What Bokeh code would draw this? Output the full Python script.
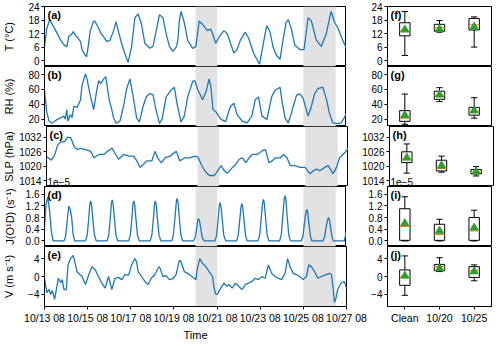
from bokeh.plotting import figure
from bokeh.layouts import column, row
from bokeh.models import Range1d, FixedTicker, BoxAnnotation, Label, PrintfTickFormatter
from bokeh.embed import file_html
from bokeh.resources import INLINE

FONT = "Liberation Sans"
BLUE = "#1f77b4"

# ---------------- data (time in days after 10/13 08:00) ----------------
T_t = [0, 0.1, 0.24, 0.4, 0.52, 0.75, 0.9, 1.03, 1.13, 1.28, 1.33, 1.42, 1.51, 1.67, 1.74, 1.9, 1.95,
       2.05, 2.12, 2.27, 2.32, 2.5, 2.6, 2.74, 2.89, 3.04, 3.2, 3.32, 3.43, 3.55, 3.73, 3.88, 4.04,
       4.19, 4.34, 4.5, 4.65, 4.88, 5.03, 5.18, 5.33, 5.49, 5.64, 5.79, 5.95, 6.1, 6.18, 6.25, 6.33,
       6.48, 6.64, 6.87, 7.02, 7.17, 7.33, 7.55, 7.7, 7.79, 7.94, 8.09, 8.32, 8.47, 8.62, 8.78, 8.93,
       9.08, 9.31, 9.47, 9.69, 9.92, 9.97, 10.15, 10.3, 10.45, 10.6, 10.75, 10.92, 11.07, 11.2, 11.3,
       11.45, 11.6, 11.83, 12.03, 12.15, 12.22, 12.37, 12.6, 12.83, 13.06, 13.25, 13.29, 13.45, 13.59,
       13.82, 14.0]
T_v = [6.4, 14, 18.3, 15.5, 13.4, 9.2, 7.1, 6.2, 10.9, 12, 13, 11.5, 10.6, 8.5, 5, 2.4, 1.8,
       8, 13.4, 17.4, 17.7, 14.8, 12.5, 10.6, 8.5, 9.2, 13.4, 17.4, 13, 8.5, 3, -0.7, 6.4,
       19.1, 20.8, 16.2, 7.8, 5.6, 6.4, 13.4, 20.5, 19.1, 12, 6.4, 4.2, 6, 9, 17.7, 21.9,
       17, 9, 5.5, 6.4, 17.7, 16.2, 13.4, 14.1, 12, 7.8, 10.6, 13.4, 12, 7.8, 3.5, 5,
       9.2, 12.7, 9.9, 3.5, -0.7, -1.4, 8, 15.5, 13, 6, 2.5, 0.7, 10, 17, 18.3,
       14, 7, 5, 5, 14, 19.1, 17.7, 9.2, 6.4, 12, 20.5, 21.9, 17, 14.8,
       9.2, 5.6]

RH_t = [0, 0.1, 0.21, 0.34, 0.47, 0.6, 0.75, 0.9, 0.97, 1.03, 1.09, 1.2, 1.28, 1.36, 1.51, 1.67, 1.74,
        1.9, 1.97, 2.1, 2.28, 2.4, 2.51, 2.6, 2.74, 2.84, 3.0, 3.12, 3.2, 3.32, 3.5, 3.66, 3.81, 3.96,
        4.11, 4.27, 4.4, 4.57, 4.72, 4.88, 5.03, 5.15, 5.33, 5.45, 5.64, 5.87, 6.02, 6.15, 6.33, 6.48,
        6.64, 6.87, 6.97, 7.1, 7.33, 7.5, 7.63, 7.72, 7.81, 7.94, 8.17, 8.39, 8.62, 8.78, 8.93, 9.16,
        9.39, 9.61, 9.77, 9.92, 10.08, 10.31, 10.53, 10.69, 10.92, 11.0, 11.15, 11.3, 11.45, 11.53,
        11.68, 11.83, 11.99, 12.22, 12.37, 12.52, 12.67, 12.9, 13.06, 13.21, 13.36, 13.59, 13.75,
        13.9, 14.0]
RH_v = [59, 30, 17.4, 14.4, 17, 19.6, 21.6, 24, 20, 32.8, 17.4, 26.2, 22, 37.1, 35.8, 45.9, 65.6,
        80.8, 74.3, 55, 32.8, 55, 72, 68, 74, 77.4, 45.9, 32.8, 21.7, 14.4, 17.4, 37.1, 61, 74.3,
        50.2, 21.7, 16, 37.1, 50.2, 54.5, 53, 35, 14, 20, 50, 59, 63, 40, 16, 24,
        50, 71, 72, 60, 46, 58, 74.3, 62, 33, 30, 20, 16.5, 37, 41.4, 26, 17.4,
        15, 24, 46, 50, 24, 19.6, 50, 59, 63, 46, 21.7, 15, 28, 37,
        52, 54, 48, 24, 37, 54, 61, 63, 48, 28, 15, 14, 15,
        22, 28]

SLP_t = [0, 0.22, 0.37, 0.52, 0.67, 0.83, 0.98, 1.13, 1.28, 1.44, 1.59, 1.82, 2.05, 2.2, 2.43, 2.66,
         2.82, 3.04, 3.2, 3.35, 3.58, 3.81, 4.04, 4.19, 4.34, 4.5, 4.65, 4.88, 5.03, 5.15, 5.33, 5.49,
         5.72, 6.02, 6.18, 6.41, 6.64, 6.87, 7.02, 7.17, 7.33, 7.55, 7.79, 7.94, 8.09, 8.24, 8.39,
         8.55, 8.78, 8.93, 9.08, 9.24, 9.39, 9.54, 9.77, 10.0, 10.15, 10.31, 10.46, 10.61, 10.84,
         10.99, 11.15, 11.3, 11.53, 11.76, 11.99, 12.22, 12.37, 12.52, 12.67, 12.9, 13.06, 13.29,
         13.44, 13.59, 13.82, 14.0]
SLP_v = [1024.2, 1022.5, 1024.5, 1028.9, 1030.2, 1030.2, 1032.2, 1031.8, 1028.2, 1026.9, 1027.5,
         1026.9, 1026.2, 1023.5, 1024.9, 1024.9, 1026.2, 1027.6, 1024.9, 1022.9, 1024.9, 1024.2,
         1024.2, 1022.2, 1019.5, 1020.8, 1022.2, 1022.2, 1026.2, 1023.5, 1021.4, 1023.5, 1024.2,
         1026.2, 1022.2, 1023.5, 1023.5, 1024.2, 1023.8, 1020.8, 1018.1, 1016.1, 1016.1, 1018.1,
         1020.2, 1018.1, 1017.1, 1018.8, 1020.8, 1022.9, 1023.5, 1021.5, 1023.5, 1024.9, 1024.9,
         1026.5, 1026.9, 1021.5, 1022.2, 1023.5, 1023.5, 1024.9, 1023.5, 1020.2, 1020.2, 1019.5,
         1019.5, 1016.8, 1018.1, 1018.8, 1018.1, 1019.5, 1020.2, 1016.8, 1019.5, 1023.5, 1025.6,
         1027.6]

J_t = [0.00, 0.07, 0.15, 0.24, 0.32, 0.40,
       0.90, 0.98, 1.06, 1.13, 1.20, 1.26, 1.33, 1.40,
       1.90, 1.98, 2.06, 2.10, 2.14, 2.18, 2.23, 2.31, 2.40,
       2.90, 2.98, 3.06, 3.10, 3.14, 3.18, 3.23, 3.31, 3.40,
       3.90, 3.98, 4.06, 4.10, 4.14, 4.18, 4.23, 4.31, 4.40,
       4.90, 4.98, 5.06, 5.10, 5.14, 5.18, 5.23, 5.31, 5.40,
       5.90, 5.98, 6.06, 6.11, 6.15, 6.19, 6.24, 6.32, 6.40,
       6.90, 6.98, 7.06, 7.10, 7.14, 7.18, 7.23, 7.31, 7.40,
       7.90, 7.98, 8.06, 8.10, 8.14, 8.18, 8.23, 8.31, 8.40,
       8.90, 8.98, 9.06, 9.11, 9.15, 9.19, 9.24, 9.32, 9.40,
       9.90, 9.98, 10.06, 10.11, 10.15, 10.19, 10.24, 10.32, 10.40,
       10.90, 10.98, 11.06, 11.11, 11.15, 11.19, 11.24, 11.32, 11.40,
       11.90, 11.98, 12.06, 12.12, 12.16, 12.20, 12.25, 12.33, 12.40,
       12.90, 12.98, 13.06, 13.13, 13.17, 13.21, 13.26, 13.33, 13.40,
       13.90, 14.00]
J_v = [0.45, 1.25, 1.50, 1.00, 0.30, 0.00,
       0.00, 0.15, 0.75, 1.19, 1.06, 0.80, 0.20, 0.00,
       0.00, 0.20, 0.85, 1.25, 1.37, 1.24, 0.85, 0.22, 0.00,
       0.00, 0.22, 0.88, 1.28, 1.40, 1.27, 0.86, 0.20, 0.00,
       0.00, 0.20, 0.84, 1.25, 1.37, 1.24, 0.83, 0.20, 0.00,
       0.00, 0.21, 0.86, 1.26, 1.37, 1.23, 0.80, 0.19, 0.00,
       0.00, 0.22, 0.90, 1.34, 1.45, 1.32, 0.88, 0.21, 0.00,
       0.00, 0.10, 0.45, 0.70, 0.77, 0.69, 0.50, 0.12, 0.00,
       0.00, 0.20, 0.80, 1.20, 1.31, 1.19, 0.82, 0.20, 0.00,
       0.00, 0.19, 0.78, 1.16, 1.27, 1.15, 0.78, 0.18, 0.00,
       0.00, 0.22, 0.88, 1.30, 1.42, 1.29, 0.86, 0.21, 0.00,
       0.00, 0.24, 0.95, 1.42, 1.55, 1.41, 0.93, 0.22, 0.00,
       0.00, 0.16, 0.66, 0.99, 1.08, 0.98, 0.65, 0.15, 0.00,
       0.00, 0.12, 0.50, 0.73, 0.80, 0.72, 0.48, 0.12, 0.00,
       0.00, 0.35]

V_t = [0, 0.11, 0.21, 0.29, 0.36, 0.47, 0.56, 0.64, 0.75, 0.82, 0.9, 1.01, 1.09, 1.21, 1.33, 1.39,
       1.51, 1.62, 1.74, 1.9, 2.05, 2.2, 2.35, 2.5, 2.66, 2.81, 2.97, 3.12, 3.27, 3.43, 3.58, 3.73,
       3.9, 4.04, 4.19, 4.27, 4.34, 4.5, 4.65, 4.8, 4.95, 5.11, 5.26, 5.33, 5.49, 5.64, 5.79, 5.95,
       6.1, 6.25, 6.33, 6.48, 6.64, 6.79, 6.94, 7.02, 7.09, 7.2, 7.33, 7.48, 7.63, 7.79, 7.86, 7.94,
       8.01, 8.17, 8.32, 8.45, 8.55, 8.7, 8.85, 9.0, 9.16, 9.31, 9.46, 9.61, 9.77, 9.92, 10.08,
       10.23, 10.38, 10.53, 10.69, 10.84, 10.99, 11.15, 11.27, 11.38, 11.53, 11.68, 11.83, 11.99,
       12.14, 12.25, 12.37, 12.52, 12.67, 12.83, 12.95, 13.06, 13.21, 13.3, 13.36, 13.44, 13.52,
       13.59, 13.74, 13.9, 14.0]
V_v = [-0.4, -3.6, -2.9, -4.0, -3.1, -5.1, -2.6, -0.4, -1.4, -0.7, -2.9, -2.9, 2.6, 4.0, 4.7, 3.6,
       1.1, 0.5, 0, -1.8, 0.4, 2.2, 1.5, 0, -1.5, -2.6, 0, -2.9, -0.4, -0.2, -0.7, 0.4,
       0.3, 2.6, 4.0, 3.3, 1.1, 0, -1.1, -1.8, -0.4, 0.4, 1.8, 2.2, 0, 0.2, -0.7, -0.5,
       0.4, 3.6, 3.3, 1.1, 0.7, 0.1, -0.4, -0.7, 1.8, 4.0, 2.9, 2.2, 1.1, 0, -2.6, -4.0,
       -4.0, -2.6, -1.5, -2.2, -1.8, -2.6, -1.5, -2.2, -2.9, -1.8, -1.5, -1.1, -0.4, -0.7, 0,
       -0.4, 2.6, 0.7, 0, -0.4, -0.7, 0.7, 4.0, 2.2, 0.7, 0.4, 0, -0.7,
       0, 2.6, 2.2, 1.1, -0.4, 0, 0.2, 0.4, 0.7, 0.5, -1.8, -5.8, -4.7,
       -2.9, -1.5, -1.1, -2.6]

# shaded pollution episodes (days after 10/13 08:00)
episodes = [(7.0, 8.0), (12.0, 13.5)]

# time axis tick labels
time_ticks = [0, 2, 4, 6, 8, 10, 12, 14]
time_labels = ["10/13 08", "10/15 08", "10/17 08", "10/19 08", "10/21 08", "10/23 08", "10/25 08", "10/27 08"]

# box plot statistics: [whisker low, Q1, median, Q3, whisker high, mean] for Clean, 10/20, 10/25
box_cats = ["Clean", "10/20", "10/25"]
T_box = [[2.4, 11.1, 13.3, 16.9, 21.9, 13.8], [12.7, 13.1, 14.8, 16.2, 17.9, 14.1], [6.1, 13.7, 16.0, 18.8, 19.5, 15.1]]
RH_box = [[13, 17, 21.3, 31.4, 53.8, 25.3], [43.6, 46.7, 51.9, 57.7, 62.4, 52.8], [21.3, 25.3, 30.1, 35.8, 48.9, 31.4]]
SLP_box = [[1017.1, 1021.5, 1023.1, 1026.0, 1029.3, 1023.5], [1017.5, 1018.0, 1019.1, 1022.5, 1024.2, 1020.2],
           [1015.9, 1016.8, 1017.5, 1018.6, 1019.8, 1017.7]]
J_box = [[0.0, 0.02, 0.50, 1.10, 1.51, 0.60], [0.0, 0.02, 0.22, 0.57, 0.74, 0.34], [0.0, 0.02, 0.34, 0.80, 1.05, 0.45]]
V_box = [[-4.2, -1.97, -0.15, 1.46, 4.6, 0.15], [1.1, 1.27, 2.2, 2.7, 4.2, 1.8], [-0.95, -0.2, 1.3, 2.2, 2.6, 1.1]]

# ---------------- panel definitions ----------------
panels = [
    dict(t=T_t, v=T_v, box=T_box, yr=(-2.5, 24.1), ticks=[0, 6, 12, 18, 24], ylabel="T (°C)",
         lab=("(a)", "(f)"), standoff=10),
    dict(t=RH_t, v=RH_v, box=RH_box, yr=(10, 91), ticks=[20, 40, 60, 80], ylabel="RH (%)",
         lab=("(b)", "(g)"), standoff=10),
    dict(t=SLP_t, v=SLP_v, box=SLP_box, yr=(1011.5, 1036.6), ticks=[1014, 1020, 1026, 1032],
         ylabel="SLP (hPa)", lab=("(c)", "(h)"), standoff=1),
    dict(t=J_t, v=J_v, box=J_box, yr=(-0.19, 1.86), ticks=[0.0, 0.4, 0.8, 1.2, 1.6],
         ylabel="J(O¹D) (s⁻¹)", lab=("(d)", "(i)"), standoff=7),
    dict(t=V_t, v=V_v, box=V_box, yr=(-6.7, 6.7), ticks=[-4, 0, 4], ylabel="V (m s⁻¹)",
         lab=("(e)", "(j)"), standoff=10),
]


def style_common(p):
    p.xgrid.visible = False
    p.ygrid.visible = False
    p.outline_line_color = "black"
    p.outline_line_width = 1
    p.outline_line_alpha = 1
    p.background_fill_color = "white"
    p.border_fill_color = "white"


def style_axis(ax, fs="10px"):
    ax.major_label_text_font = FONT
    ax.major_label_text_font_size = fs
    ax.major_label_text_color = "black"
    ax.axis_label_text_font = FONT
    ax.axis_label_text_font_size = "11px"
    ax.axis_label_text_font_style = "normal"
    ax.axis_label_text_color = "black"
    ax.major_tick_out = 3
    ax.major_tick_in = 0
    ax.minor_tick_out = 0
    ax.minor_tick_in = 0
    ax.major_label_standoff = 2
    ax.axis_line_color = "black"
    ax.major_tick_line_color = "black"


def set_yaxis(p, P):
    ax = p.yaxis[0]
    ax.ticker = FixedTicker(ticks=P["ticks"], minor_ticks=[])
    style_axis(ax)
    if P["ylabel"].startswith("J"):
        ax.formatter = PrintfTickFormatter(format="%.1f")
    if -4 in P["ticks"]:
        ax.major_label_overrides = {-4: "\u22124"}


def add_label(p, text, x, y):
    p.add_layout(Label(x=x, y=y, text=text, x_offset=3, y_offset=-2, text_baseline="top",
                       text_font=FONT, text_font_size="11px", text_font_style="bold",
                       text_color="black"))


rows = []
n = len(panels)
for i, P in enumerate(panels):
    first = i == 0
    last = i == n - 1
    top = 6 if first else 0
    bottom = 31 if last else 0
    ylo, yhi = P["yr"]

    # ---- left time-series panel ----
    pl = figure(frame_width=302, frame_height=60, min_border_left=42,
                min_border_right=21 if last else 0, min_border_top=top, min_border_bottom=bottom,
                x_range=Range1d(0, 14), y_range=Range1d(ylo, yhi),
                output_backend="svg", toolbar_location=None)
    style_common(pl)
    for a, b in episodes:
        pl.add_layout(BoxAnnotation(left=a, right=b, fill_color="#e2e2e2", fill_alpha=1.0,
                                    line_color=None, level="underlay"))
    pl.line(P["t"], P["v"], line_color=BLUE, line_width=1.3)
    set_yaxis(pl, P)
    yax = pl.yaxis[0]
    yax.axis_label = P["ylabel"]
    yax.axis_label_standoff = P["standoff"]
    add_label(pl, P["lab"][0], 0, yhi)
    if last:
        xax = pl.xaxis[0]
        xax.ticker = FixedTicker(ticks=time_ticks, minor_ticks=[])
        xax.major_label_overrides = {t: s for t, s in zip(time_ticks, time_labels)}
        style_axis(xax, "10.5px")
        xax.axis_label = "Time"
        xax.axis_label_standoff = 2
    else:
        pl.xaxis.visible = False

    # ---- right box-plot panel ----
    pr = figure(frame_width=104, frame_height=60, min_border_left=20 if last else 41,
                min_border_right=2, min_border_top=top, min_border_bottom=bottom,
                x_range=Range1d(0.5, 3.5), y_range=Range1d(ylo, yhi),
                output_backend="svg", toolbar_location=None)
    style_common(pr)
    xs = [1, 2, 3]
    lows = [s[0] for s in P["box"]]
    q1 = [s[1] for s in P["box"]]
    med = [s[2] for s in P["box"]]
    q3 = [s[3] for s in P["box"]]
    highs = [s[4] for s in P["box"]]
    means = [s[5] for s in P["box"]]
    hw = 0.15
    cw = 0.09
    pr.segment(x0=xs, y0=lows, x1=xs, y1=q1, line_color="black", line_width=1)
    pr.segment(x0=xs, y0=q3, x1=xs, y1=highs, line_color="black", line_width=1)
    pr.segment(x0=[x - cw for x in xs], y0=lows, x1=[x + cw for x in xs], y1=lows,
               line_color="black", line_width=1)
    pr.segment(x0=[x - cw for x in xs], y0=highs, x1=[x + cw for x in xs], y1=highs,
               line_color="black", line_width=1)
    pr.quad(left=[x - hw for x in xs], right=[x + hw for x in xs], bottom=q1, top=q3,
            fill_color=None, line_color="black", line_width=1)
    pr.segment(x0=[x - hw for x in xs], y0=med, x1=[x + hw for x in xs], y1=med,
               line_color="#ff7f0e", line_width=1.2)
    pr.scatter(xs, means, marker="triangle", size=8, fill_color="#2ca02c", line_color="#2ca02c")
    set_yaxis(pr, P)
    add_label(pr, P["lab"][1], 0.5, yhi)
    if last:
        xax = pr.xaxis[0]
        xax.ticker = FixedTicker(ticks=[1, 2, 3], minor_ticks=[])
        xax.major_label_overrides = {1: box_cats[0], 2: box_cats[1], 3: box_cats[2]}
        style_axis(xax, "10.5px")
    else:
        pr.xaxis.visible = False

    # offset text of the J axis, drawn at the bottom of the SLP panels
    if P["ylabel"].startswith("SLP"):
        for p, x0 in ((pl, 0), (pr, 0.5)):
            p.add_layout(Label(x=x0, y=ylo, text="1e\u22125", x_offset=1, y_offset=1,
                               text_baseline="bottom", text_font=FONT, text_font_size="10px",
                               text_color="black"))

    rows.append(row(pl, pr))

layout = column(*rows)

open("out.html", "w").write(file_html(layout, INLINE))
